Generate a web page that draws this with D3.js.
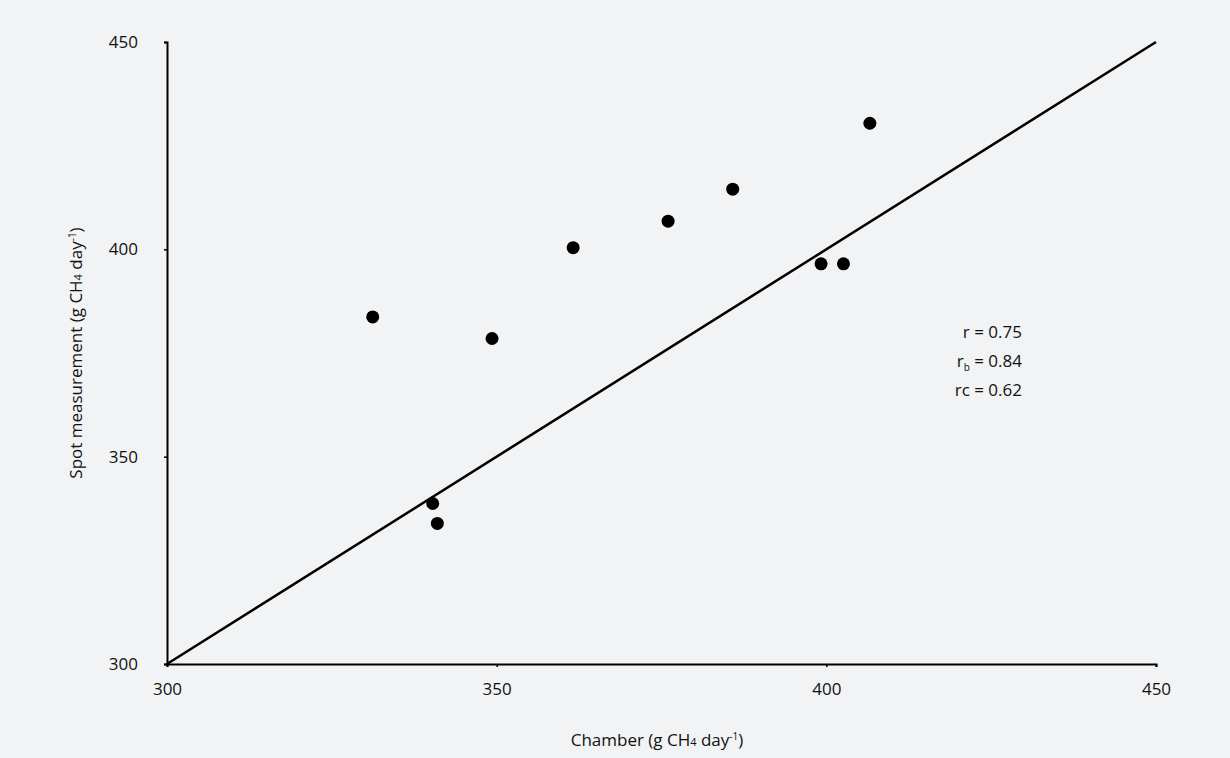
<!DOCTYPE html>
<html>
<head>
<meta charset="utf-8">
<script src="https://cdn.jsdelivr.net/npm/d3@7"></script>
<style>
  body { margin: 0; background: #f2f3f5; }
  svg text { font-family: "Open Sans", "Noto Sans", sans-serif; fill: #111; }
</style>
</head>
<body>
<div id="chart"></div>
<script>
// Chamber vs spot measurement (g CH4 day-1)
const chamber = [331.2, 349.3, 361.6, 376.0, 385.8, 399.2, 402.6, 340.3, 341.0, 406.6];
const spot    = [383.7, 378.5, 400.4, 406.8, 414.5, 396.5, 396.5, 338.7, 333.9, 430.4];
const ticks = [300, 350, 400, 450];
const stats = [
  { name: "r", sub: "", value: "0.75" },
  { name: "r", sub: "b", value: "0.84" },
  { name: "rc", sub: "", value: "0.62" }
];

const width = 1230, height = 758;
const margin = { top: 42, right: 74, bottom: 94, left: 167 };

const svg = d3.select("#chart").append("svg")
  .attr("width", width).attr("height", height);

svg.append("rect").attr("width", width).attr("height", height).attr("fill", "#f2f3f5");

const x = d3.scaleLinear().domain([300, 450]).range([margin.left, width - margin.right]);
const y = d3.scaleLinear().domain([300, 450]).range([height - margin.bottom, margin.top]);

const xAxis = svg.append("g")
  .attr("transform", `translate(0,${y(300)})`)
  .call(d3.axisBottom(x).tickValues(ticks).tickSize(3).tickPadding(16));
const yAxis = svg.append("g")
  .attr("transform", `translate(${x(300)},0)`)
  .call(d3.axisLeft(y).tickValues(ticks).tickSize(3).tickPadding(26));

[xAxis, yAxis].forEach(g => {
  g.select(".domain").attr("stroke", "#000").attr("stroke-width", 2);
  g.selectAll(".tick line").attr("stroke", "#000").attr("stroke-width", 1.5);
  g.selectAll(".tick text").attr("font-size", 17).attr("fill", "#111")
    .attr("font-family", "Open Sans, Noto Sans, sans-serif");
});

// 1:1 line
svg.append("line")
  .attr("x1", x(300)).attr("y1", y(300))
  .attr("x2", x(450)).attr("y2", y(450))
  .attr("stroke", "#000").attr("stroke-width", 2.5);

svg.append("g").selectAll("circle")
  .data(chamber.map((c, i) => [c, spot[i]]))
  .join("circle")
  .attr("cx", d => x(d[0])).attr("cy", d => y(d[1]))
  .attr("r", 6.5).attr("fill", "#000");

// stats
const st = svg.append("g");
stats.forEach((s, i) => {
  const t = st.append("text")
    .attr("x", 1022).attr("y", 338 + i * 29)
    .attr("text-anchor", "end").attr("font-size", 17);
  t.append("tspan").text(s.name);
  if (s.sub) t.append("tspan").attr("font-size", 10).attr("dy", 4).text(s.sub);
  t.append("tspan").attr("dy", s.sub ? -4 : 0).text(" = " + s.value);
});

// axis titles
const xt = svg.append("text")
  .attr("x", 657).attr("y", 746)
  .attr("text-anchor", "middle").attr("font-size", 17);
xt.append("tspan").text("Chamber  (g CH");
xt.append("tspan").attr("font-size", 11).text("4");
xt.append("tspan").text(" day");
xt.append("tspan").attr("font-size", 10).attr("dy", -6).text("-1");
xt.append("tspan").attr("dy", 6).text(")");

const yt = svg.append("text")
  .attr("transform", `translate(82,${(y(300) + y(450)) / 2}) rotate(-90)`)
  .attr("text-anchor", "middle").attr("font-size", 17);
yt.append("tspan").text("Spot measurement (g CH");
yt.append("tspan").attr("font-size", 11).text("4");
yt.append("tspan").text(" day");
yt.append("tspan").attr("font-size", 10).attr("dy", -6).text("-1");
yt.append("tspan").attr("dy", 6).text(")");
</script>
</body>
</html>
